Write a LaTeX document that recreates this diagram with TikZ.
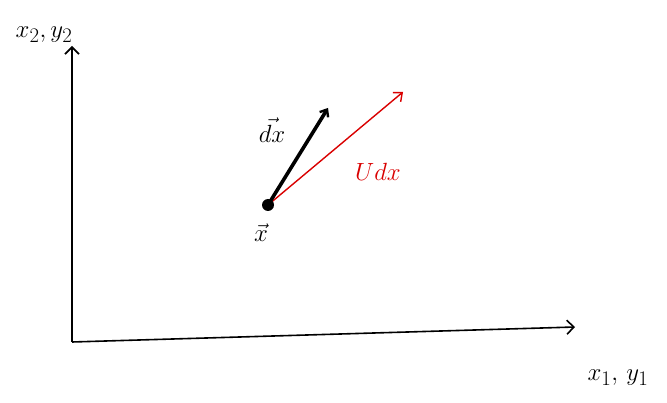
\documentclass[tikz,border=0pt]{standalone}
\usepackage{amsmath}
\usetikzlibrary{arrows.meta}
\begin{document}
\begin{tikzpicture}[x=1pt,y=-1pt,
  axis/.style={line width=1.6pt,-{Straight Barb[length=7pt,width=14pt,line width=1.6pt]}},
  vecblack/.style={line width=3.6pt,-{Straight Barb[length=6pt,width=10pt,line width=2.4pt]}},
  vecred/.style={red!85!black,line width=1.4pt,-{Straight Barb[length=7pt,width=12pt,line width=1.4pt]}},
  lbl/.style={inner sep=0pt}]
\useasboundingbox (0,0) rectangle (667,403);
\coordinate (O) at (72,342);
\coordinate (Ytop) at (72,46);
\coordinate (Xend) at (575,327);
\draw[axis] (O) -- (Ytop);
\draw[axis] (O) -- (Xend);
\node[lbl,font=\fontsize{28}{32}\selectfont] (ylab) at (44,35) {$x_2,y_2$};
\node[lbl,font=\fontsize{28}{32}\selectfont] (xlab) at (618,378) {$x_1,\,y_1$};
\coordinate (P) at (268,205);
\coordinate (Dx) at (328,108);
\coordinate (Ux) at (403,92);
\draw[vecred] (P) -- (Ux);
\draw[vecblack] (P) -- (Dx);
\fill (P) circle (6pt);
\node[lbl,font=\fontsize{24}{28}\selectfont] (dxlab) at (272,130) {$\vec{dx}$};
\node[lbl,red!85!black,font=\fontsize{34}{38}\selectfont] (udxlab) at (378,172) {$U dx$};
\node[lbl,font=\fontsize{36}{40}\selectfont] (xvec) at (261,233) {$\vec{x}$};
\end{tikzpicture}
\end{document}
